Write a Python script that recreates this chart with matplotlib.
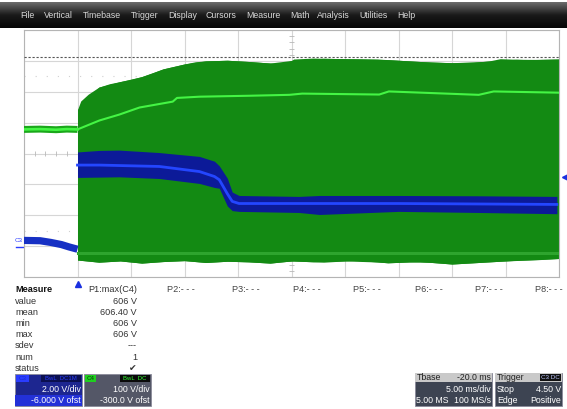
import matplotlib.pyplot as plt
import numpy as np
from matplotlib.colors import LinearSegmentedColormap
from matplotlib.patches import Rectangle

plt.rcParams["font.family"] = ["Liberation Sans", "DejaVu Sans"]

W, H = 567, 409

# channel settings, as shown in the descriptor boxes
C3_VDIV, C3_OFST = 2.0, -6.0
C4_VDIV, C4_OFST = 100.0, -300.0
T_LEFT, T_RIGHT = -5.0, 45.0  # ms, 5 ms/div, 10 div
C3_TRIG_LEVEL = 4.50
C4_CURSOR = 611.0

# C4 (green), time in ms, volts
c4_pre_t = [-5.0, -3.5, -2.0, -1.0, 0.0]
c4_pre_v = [378, 379, 377, 379, 378]
c4_top_t = [0.0, 0.3, 1.0, 2.0, 3.0, 4.0, 5.0, 6.0, 7.0, 8.0, 9.0, 10.0, 11.0, 12.0,
            14.0, 16.0, 18.0, 19.5, 20.2, 22.0, 25.0, 28.0, 29.0, 31.0, 33.0, 35.0,
            37.0, 38.5, 39.5, 42.0, 45.0]
c4_top_v = [442, 470, 492, 515, 526, 533, 540, 549, 561, 574, 582, 590, 597, 600,
            602, 598, 593, 590, 606, 609, 607, 606, 604, 600, 596, 594, 595, 600,
            607, 604, 606]
c4_bot_t = [0.0, 2.0, 4.0, 6.0, 8.0, 10.0, 12.0, 14.0, 16.0, 18.0, 20.0, 23.0, 26.0,
            29.0, 32.0, 35.0, 38.0, 41.0, 43.0, 45.0]
c4_bot_v = [-45, -52, -48, -55, -50, -47, -53, -49, -51, -55, -48, -52, -46, -54,
            -50, -58, -52, -46, -44, -40]
c4_avg_t = [0.0, 2.05, 3.9, 5.8, 8.9, 9.3, 11.4, 16.0, 19.8, 21.0, 28.2, 29.1, 37.5,
            38.9, 45.0]
c4_avg_v = [378, 407, 426, 449, 468, 480, 484, 487, 490, 494, 491, 501, 490, 501, 497]
c4_floor_v = -22

# C3 (blue), time in ms, volts
c3_pre_t = [-5.0, -3.5, -2.5, -1.5, -0.8, 0.0]
c3_pre_v = [0.37, 0.35, 0.24, 0.10, -0.05, -0.20]
c3_t = [0.0, 2.05, 3.9, 7.65, 11.4, 12.8, 13.25, 14.0, 14.46, 15.1, 20.7, 22.6,
        30.0, 37.5, 44.8]
c3_top = [6.10, 6.20, 6.22, 6.06, 5.81, 5.50, 5.20, 4.40, 3.50, 3.28, 3.22, 3.28,
          3.28, 3.26, 3.22]
c3_mid = [5.25, 5.25, 5.22, 5.16, 4.83, 4.51, 4.30, 3.40, 2.90, 2.76, 2.76, 2.76,
          2.76, 2.73, 2.70]
c3_bot = [4.45, 4.47, 4.49, 4.38, 4.06, 3.80, 3.75, 2.60, 2.30, 2.25, 2.18, 2.05,
          2.25, 2.18, 2.10]

menu_items = ["File", "Vertical", "Timebase", "Trigger", "Display", "Cursors",
              "Measure", "Math", "Analysis", "Utilities", "Help"]
menu_x = [20, 44, 83, 131, 168, 206, 246, 290, 317, 359, 397]

meas_rows = ["value", "mean", "min", "max", "sdev", "num", "status"]
meas_p1 = ["606 V", "606.40 V", "606 V", "606 V", "---", "1", "\u2714"]
param_labels = ["P2:- - -", "P3:- - -", "P4:- - -", "P5:- - -", "P6:- - -",
                "P7:- - -", "P8:- - -"]
param_x = [167, 232, 293, 353, 415, 475, 535]


def c3_div(v):
    return (np.asarray(v, dtype=float) + C3_OFST) / C3_VDIV


def c4_div(v):
    return (np.asarray(v, dtype=float) + C4_OFST) / C4_VDIV


fig = plt.figure(figsize=(W / 100, H / 100), dpi=100)
fig.patch.set_facecolor("white")

# ---- UI layer in pixel coordinates
ui = fig.add_axes([0, 0, 1, 1], zorder=0)
ui.axis("off")
bar_cmap = LinearSegmentedColormap.from_list("bar", ["#6b6b6b", "#1a1a1a", "#050505"])
ui.imshow(np.linspace(0, 1, 60).reshape(-1, 1), cmap=bar_cmap, aspect="auto",
          extent=(0, W, 28, 2))
for name, x in zip(menu_items, menu_x):
    ui.text(x, 16, name, color="#d8d8d8", fontsize=6.3, ha="left", va="center")

# measure table
ui.text(15, 290, "Measure", fontsize=6.6, fontweight="bold", color="#111111", va="center")
ui.text(137, 290, "P1:max(C4)", fontsize=6.6, color="#333333", ha="right", va="center")
for i, (row, val) in enumerate(zip(meas_rows, meas_p1)):
    y = 301.5 + i * 11.1
    ui.text(15, y, row, fontsize=6.6, color="#333333", va="center")
    ui.text(137, y, val, fontsize=6.6, color="#333333", ha="right", va="center")
for lab, x in zip(param_labels, param_x):
    ui.text(x, 290, lab, fontsize=6.6, color="#444444", va="center")

# C3 descriptor box
ui.add_patch(Rectangle((15, 374), 67, 32, fc="#1d2690", ec="#8a8a9a", lw=0.6))
ui.add_patch(Rectangle((15, 395), 67, 11, fc="#2331d8", ec="none"))
ui.add_patch(Rectangle((16, 375), 13, 7, fc="#2a3cff", ec="none"))
ui.add_patch(Rectangle((41, 375), 40, 7, fc="#0b1050", ec="none"))
ui.text(22.5, 378.5, "C3", fontsize=4.5, color="#1a2ad0", ha="center", va="center")
ui.text(61, 378.5, "BwL  DC1M", fontsize=4.3, color="#2a3cff", ha="center", va="center")
ui.text(81, 389, "2.00 V/div", fontsize=6.3, color="white", ha="right", va="center")
ui.text(81, 400.5, "-6.000 V ofst", fontsize=6.3, color="white", ha="right", va="center")

# C4 descriptor box
ui.add_patch(Rectangle((84, 374), 67, 32, fc="#545767", ec="#8a8a9a", lw=0.6))
ui.add_patch(Rectangle((85, 375), 11, 7, fc="#1fd01f", ec="none"))
ui.add_patch(Rectangle((120, 375), 30, 7, fc="#0a0a0a", ec="none"))
ui.text(90.5, 378.5, "C4", fontsize=4.5, color="#0a3a0a", ha="center", va="center")
ui.text(135, 378.5, "BwL  DC", fontsize=4.3, color="#33ff33", ha="center", va="center")
ui.text(150, 389, "100 V/div", fontsize=6.3, color="white", ha="right", va="center")
ui.text(150, 400.5, "-300.0 V ofst", fontsize=6.3, color="white", ha="right", va="center")

# timebase box
ui.add_patch(Rectangle((415, 373), 77, 33, fc="#3d4452", ec="#8a8a9a", lw=0.6))
ui.add_patch(Rectangle((415, 373), 77, 9, fc="#c9c9c9", ec="none"))
ui.text(417, 377.5, "Tbase", fontsize=6.3, color="#222222", va="center")
ui.text(491, 377.5, "-20.0 ms", fontsize=6.3, color="#222222", ha="right", va="center")
ui.text(491, 389, "5.00 ms/div", fontsize=6.3, color="white", ha="right", va="center")
ui.text(416, 400.5, "5.00 MS", fontsize=6.3, color="white", va="center")
ui.text(491, 400.5, "100 MS/s", fontsize=6.3, color="white", ha="right", va="center")

# trigger box
ui.add_patch(Rectangle((495, 373), 67, 33, fc="#3d4452", ec="#8a8a9a", lw=0.6))
ui.add_patch(Rectangle((495, 373), 67, 9, fc="#c9c9c9", ec="none"))
ui.add_patch(Rectangle((540, 374), 21, 7, fc="#111111", ec="none"))
ui.text(497, 377.5, "Trigger", fontsize=6.3, color="#222222", va="center")
ui.text(550.5, 377.5, "C3 DC", fontsize=4.5, color="#c0c8ff", ha="center", va="center")
ui.text(497, 389, "Stop", fontsize=6.3, color="white", va="center")
ui.text(561, 389, "4.50 V", fontsize=6.3, color="white", ha="right", va="center")
ui.text(497, 400.5, "Edge", fontsize=6.3, color="white", va="center")
ui.text(561, 400.5, "Positive", fontsize=6.3, color="white", ha="right", va="center")

# C3 ground label at the left of the grid
ui.text(19, 240.5, "C3", fontsize=4.5, color="#2a3cff", ha="center", va="center")
ui.plot([16, 23], [247, 247], color="#2a3cff", lw=1.0)

ui.set_xlim(0, W)
ui.set_ylim(H, 0)

# ---- waveform grid
ax = fig.add_axes([24 / W, 1 - 277 / H, 535 / W, 247 / H], zorder=1)
ax.set_facecolor("white")
ax.set_xlim(T_LEFT, T_RIGHT)
ax.set_ylim(-4, 4)
ax.set_xticks(np.arange(T_LEFT, T_RIGHT + 0.1, 5))
ax.set_yticks(np.arange(-4, 5, 1))
ax.tick_params(length=0, labelbottom=False, labelleft=False)
ax.grid(True, color="#d6d6d6", lw=0.8)
for s in ax.spines.values():
    s.set_color("#b4b4b4")
    s.set_linewidth(0.8)

tc = (T_LEFT + T_RIGHT) / 2
ax.vlines(np.arange(T_LEFT, T_RIGHT, 1.0), -0.08, 0.08, color="#b8b8b8", lw=0.6)
ax.hlines(np.arange(-4, 4, 0.2), tc - 0.25, tc + 0.25, color="#b8b8b8", lw=0.6)
ax.axhline(2.5, color="#d0d0d0", lw=0.8, ls=(0, (1, 9)))
ax.axhline(-2.5, color="#d0d0d0", lw=0.8, ls=(0, (1, 9)))

# C4 envelope
top_i = np.interp(c4_bot_t, c4_top_t, c4_top_v)
ax.fill_between(c4_top_t, c4_div(c4_top_v), c4_div(np.interp(c4_top_t, c4_bot_t, c4_bot_v)),
                color="#138a13", lw=0, zorder=2)
ax.fill_between(c4_bot_t, c4_div(top_i), c4_div(c4_bot_v), color="#138a13", lw=0, zorder=2)
ax.plot([0, T_RIGHT], c4_div([c4_floor_v, c4_floor_v]), color="#2ea52e", lw=2.2, zorder=3)

# C3 band
ax.fill_between(c3_t, c3_div(c3_top), c3_div(c3_bot), color="#0c1a98", lw=0, zorder=4)
ax.plot(c3_t, c3_div(c3_mid), color="#2446ff", lw=2.0, zorder=5)
ax.plot(c3_pre_t, c3_div(c3_pre_v), color="#1630c4", lw=5.2, zorder=5,
        solid_capstyle="butt")

# C4 averaged trace
ax.plot(c4_pre_t, c4_div(c4_pre_v), color="#1aa81a", lw=5.0, zorder=6,
        solid_capstyle="butt")
ax.plot(c4_pre_t, c4_div(c4_pre_v), color="#44f544", lw=1.9, zorder=7)
ax.plot(c4_avg_t, c4_div(c4_avg_v), color="#44f544", lw=1.5, zorder=7)

# cursor line
ax.axhline(c4_div(C4_CURSOR), color="#555555", lw=0.8, ls=(0, (2, 1.6)), zorder=8)

# trigger markers
ax.plot([0], [-0.03], marker="^", ms=5, color="#1a30e0", clip_on=False,
        transform=ax.get_xaxis_transform(), zorder=9)
ax.plot([1.012], [c3_div(C3_TRIG_LEVEL)], marker="<", ms=4.5, color="#1a30e0",
        clip_on=False, transform=ax.get_yaxis_transform(), zorder=9)

fig.savefig("out.png", dpi=100)
